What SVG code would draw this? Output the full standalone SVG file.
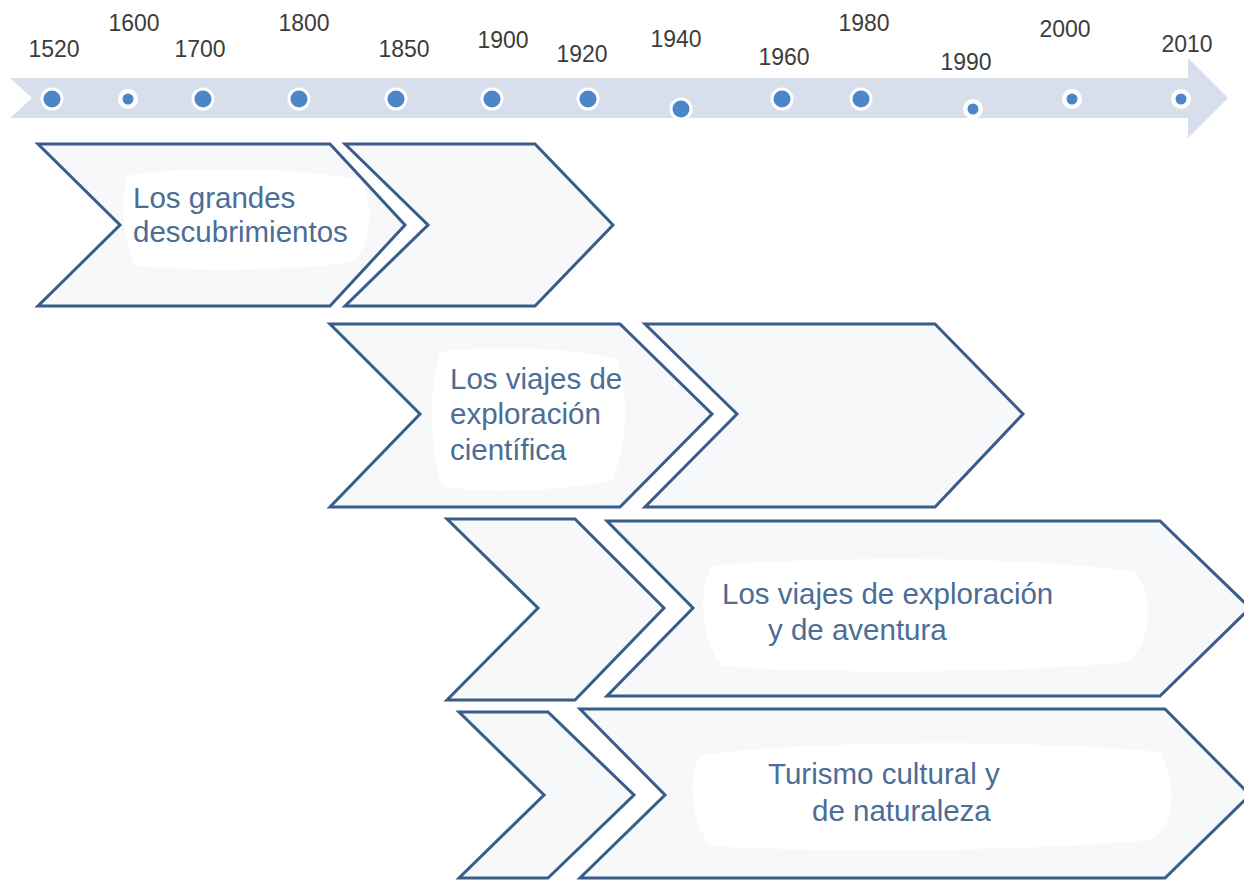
<svg xmlns="http://www.w3.org/2000/svg" width="1244" height="880" viewBox="0 0 1244 880">
<style>
.yr{font-family:"Liberation Sans",Arial,sans-serif;font-size:23px;fill:#3c3c3c;text-anchor:middle}
.ch{fill:#f7f8fa;stroke:#385d8a;stroke-width:3;stroke-linejoin:miter}
.blob{fill:#ffffff}
.lb{font-family:"Liberation Sans",Arial,sans-serif;font-size:29.5px;fill:#4b6d96}
.dl{fill:#4a86c8;stroke:#ffffff;stroke-width:3}
.ds{fill:#4a86c8}
.ring{fill:#ffffff}
</style>
<rect width="1244" height="880" fill="#ffffff"/>
<g id="timeline">
<polygon points="10,78 1188,78 1188,58 1228,98 1188,138 1188,118 10,118 32,98" fill="#d6dfeb"/>
<circle class="dl" cx="52" cy="99" r="10"/>
<circle class="ring" cx="128" cy="99" r="10"/><circle class="ds" cx="128" cy="99" r="5.5"/>
<circle class="dl" cx="203" cy="99" r="10"/>
<circle class="dl" cx="299" cy="99" r="10"/>
<circle class="dl" cx="396" cy="99" r="10"/>
<circle class="dl" cx="492" cy="99" r="10"/>
<circle class="dl" cx="588" cy="99" r="10"/>
<circle class="dl" cx="681" cy="109" r="10"/>
<circle class="dl" cx="782" cy="99" r="10"/>
<circle class="dl" cx="861" cy="99" r="10"/>
<circle class="ring" cx="973" cy="109" r="10"/><circle class="ds" cx="973" cy="109" r="5.5"/>
<circle class="ring" cx="1072" cy="99" r="10"/><circle class="ds" cx="1072" cy="99" r="5.5"/>
<circle class="ring" cx="1181" cy="99" r="10"/><circle class="ds" cx="1181" cy="99" r="5.5"/>
<text class="yr" x="54" y="57">1520</text>
<text class="yr" x="134" y="31">1600</text>
<text class="yr" x="200" y="57">1700</text>
<text class="yr" x="304" y="31">1800</text>
<text class="yr" x="404" y="57">1850</text>
<text class="yr" x="503" y="48">1900</text>
<text class="yr" x="582" y="62">1920</text>
<text class="yr" x="676" y="47">1940</text>
<text class="yr" x="784" y="65">1960</text>
<text class="yr" x="864" y="31">1980</text>
<text class="yr" x="966" y="70">1990</text>
<text class="yr" x="1065" y="37">2000</text>
<text class="yr" x="1187" y="52">2010</text>
</g>
<g id="row1a">
<polygon class="ch" points="38,144 330,144 405,225 330,306 38,306 120,225"/>
<path class="blob" d="M128,176 C180,166 310,168 360,180 C375,200 372,248 352,262 C290,272 180,270 135,266 C122,240 120,195 128,176 Z"/>
<text class="lb" x="133" y="208">Los grandes</text>
<text class="lb" x="133" y="242">descubrimientos</text>
</g>
<g id="row1b">
<polygon class="ch" points="345,144 535,144 613,225 535,306 345,306 428,225"/>
</g>
<g id="row2a">
<polygon class="ch" points="330,324 620,324 712,414 620,507 330,507 420,414"/>
<path class="blob" d="M440,352 C490,345 580,348 618,360 C630,400 626,450 612,480 C560,492 480,494 442,486 C430,450 428,390 440,352 Z"/>
<text class="lb" x="450" y="389">Los viajes de</text>
<text class="lb" x="450" y="424">exploración</text>
<text class="lb" x="450" y="460">científica</text>
</g>
<g id="row2b">
<polygon class="ch" points="645,324 935,324 1023,414 935,507 645,507 737,414"/>
</g>
<g id="row3a">
<polygon class="ch" points="447,519 575,519 664,608 575,700 447,700 538,608"/>
</g>
<g id="row3b">
<polygon class="ch" points="607,521 1160,521 1250,608 1160,696 607,696 693,608"/>
<path class="blob" d="M712,566 C820,556 1030,556 1135,572 C1155,600 1152,640 1128,662 C1000,674 820,674 722,666 C700,640 698,590 712,566 Z"/>
<text class="lb" x="722" y="604">Los viajes de exploración</text>
<text class="lb" x="768" y="640">y de aventura</text>
</g>
<g id="row4a">
<polygon class="ch" points="459,712 548,712 634,795 548,878 459,878 544,795"/>
</g>
<g id="row4b">
<polygon class="ch" points="580,709 1165,709 1250,795 1165,878 580,878 665,795"/>
<path class="blob" d="M700,755 C820,740 1040,740 1160,752 C1178,790 1175,825 1150,840 C1020,852 820,852 710,846 C690,820 688,780 700,755 Z"/>
<text class="lb" x="768" y="784">Turismo cultural y</text>
<text class="lb" x="812" y="821">de naturaleza</text>
</g>
</svg>
